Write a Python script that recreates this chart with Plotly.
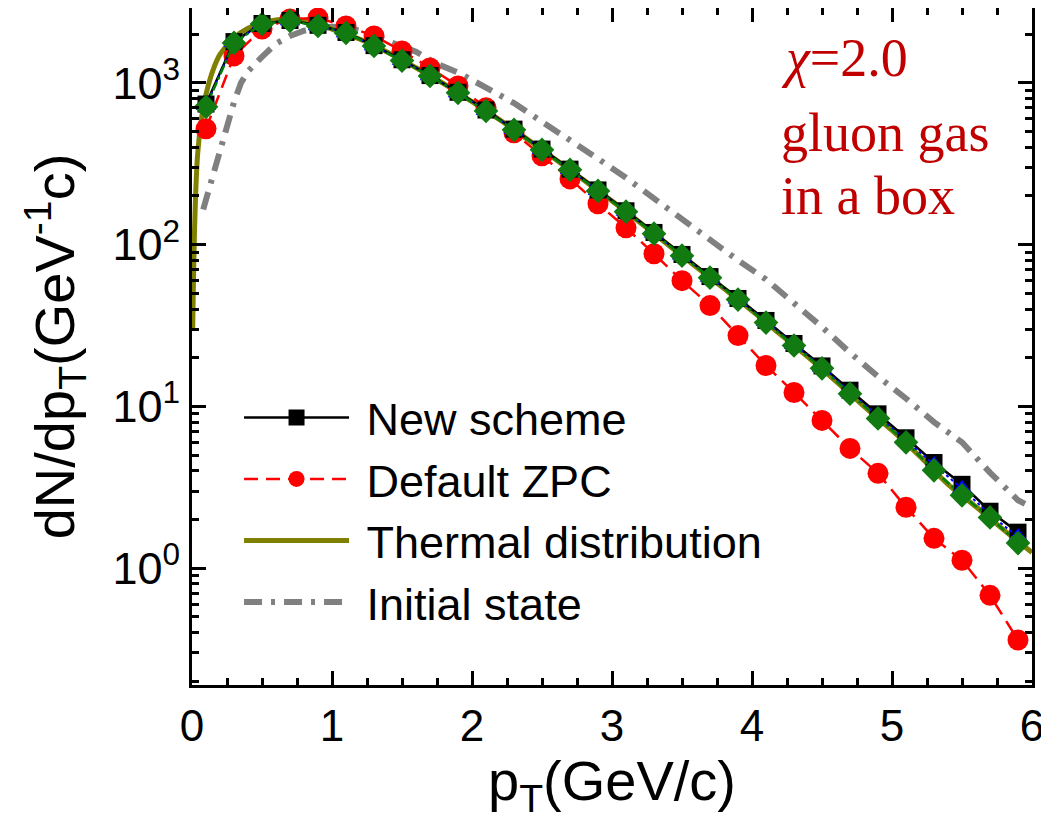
import plotly.graph_objects as go

# ---------------- data ----------------
pt_bins = [0.1, 0.3, 0.5, 0.7, 0.9, 1.1, 1.3, 1.5, 1.7, 1.9,
           2.1, 2.3, 2.5, 2.7, 2.9, 3.1, 3.3, 3.5, 3.7, 3.9,
           4.1, 4.3, 4.5, 4.7, 4.9, 5.1, 5.3, 5.5, 5.7, 5.9]

new_scheme = [740, 1800, 2330, 2430, 2270, 2050, 1700, 1390, 1110, 875,
              680, 518, 390, 293, 218, 162, 119, 87, 63.5, 46.5,
              34, 24.5, 17.8, 12.6, 9.0, 6.4, 4.5, 3.3, 2.25, 1.67]

default_zpc = [520, 1468, 2154, 2483, 2518, 2249, 1950, 1577, 1238, 958,
               701, 491, 354, 255, 179, 127, 87.9, 59.9, 42.0, 27.4,
               17.9, 12.2, 8.2, 5.5, 3.86, 2.38, 1.53, 1.12, 0.68, 0.36]

blue_series = [725, 1780, 2320, 2420, 2255, 2040, 1695, 1380, 1108, 870,
               674, 515, 388, 291, 216, 161, 118, 86.3, 63, 46.2,
               33.6, 24.2, 17.5, 12.3, 8.7, 6.2, 4.35, 3.1, 2.15, 1.56]

green_series = [711, 1766, 2312, 2415, 2249, 2036, 1692, 1375, 1105, 868,
                671, 513, 386, 290, 215, 160, 117, 85.5, 62.5, 45.8,
                33.0, 23.8, 17.2, 12.0, 8.43, 6.0, 4.03, 2.82, 2.06, 1.43]

thermal_pt = [0.005, 0.02, 0.04, 0.07, 0.1, 0.15, 0.2, 0.3, 0.4, 0.5,
              0.6, 0.7, 0.8, 0.9, 1.0, 1.2, 1.4, 1.6, 1.8, 2.0,
              2.2, 2.4, 2.6, 2.8, 3.0, 3.2, 3.4, 3.6, 3.8, 4.0,
              4.2, 4.4, 4.6, 4.8, 5.0, 5.2, 5.4, 5.6, 5.8, 6.0]
thermal_val = [30, 140, 360, 620, 850, 1200, 1500, 1900, 2180, 2350,
               2450, 2480, 2420, 2300, 2150, 1860, 1540, 1240, 985, 765,
               590, 445, 335, 250, 186, 137, 100, 73, 53.5, 39,
               28, 20.2, 14.3, 10.0, 7.1, 4.9, 3.3, 2.4, 1.72, 1.25]

initial_pt = [0.08, 0.1, 0.15, 0.2, 0.25, 0.3, 0.35, 0.4, 0.5, 0.6,
              0.7, 0.8, 0.9, 1.0, 1.1, 1.2, 1.3, 1.4, 1.5, 1.6,
              1.75, 1.9, 2.1, 2.3, 2.5, 2.7, 2.9, 3.1, 3.3, 3.5,
              3.7, 3.9, 4.1, 4.3, 4.5, 4.7, 4.9, 5.1, 5.3, 5.5,
              5.7, 5.9, 5.95]
initial_val = [165, 190, 280, 400, 530, 760, 1000, 1180, 1450, 1750,
               1950, 2100, 2180, 2220, 2200, 2100, 1950, 1800, 1680, 1560,
               1310, 1160, 935, 750, 575, 445, 340, 259, 193, 143,
               106, 80, 61, 44, 31, 21.5, 15.3, 11.2, 8.0, 6.0,
               3.9, 2.63, 2.5]

x_ticks = [0, 1, 2, 3, 4, 5, 6]
y_ticks = [1, 10, 100, 1000]
y_ticktext = ["10<sup>0</sup>", "10<sup>1</sup>", "10<sup>2</sup>", "10<sup>3</sup>"]
y_minor = [0.2, 0.3, 0.4, 0.5, 0.6, 0.7, 0.8, 0.9,
           2, 3, 4, 5, 6, 7, 8, 9,
           20, 30, 40, 50, 60, 70, 80, 90,
           200, 300, 400, 500, 600, 700, 800, 900, 2000]

label_lines = ["<i>χ</i>=2.0", "gluon gas", "in a box"]
label_y = [0.926, 0.816, 0.723]

FONT = "Liberation Sans, Arial, sans-serif"
SERIF = "Liberation Serif, Times New Roman, serif"
GAP = "\u00a0"  # small gap between legend symbol and text

fig = go.Figure()

fig.add_trace(go.Scatter(
    x=initial_pt, y=initial_val, mode="lines", name=GAP + "Initial state",
    line=dict(color="#808080", width=6, dash="18px,9px,4px,9px"),
    legendrank=4))

fig.add_trace(go.Scatter(
    x=thermal_pt, y=thermal_val, mode="lines", name=GAP + "Thermal distribution",
    line=dict(color="#808000", width=5, shape="spline"),
    legendrank=3))

fig.add_trace(go.Scatter(
    x=pt_bins, y=default_zpc, mode="lines+markers", name=GAP + "Default ZPC",
    line=dict(color="#FF0000", width=2.5, dash="14px,8px"),
    marker=dict(symbol="circle", size=21, color="#FF0000"),
    legendrank=2))

fig.add_trace(go.Scatter(
    x=pt_bins, y=new_scheme, mode="lines+markers", name=GAP + "New scheme",
    line=dict(color="#000000", width=2.5),
    marker=dict(symbol="square", size=17, color="#000000"),
    legendrank=1))

fig.add_trace(go.Scatter(
    x=pt_bins, y=blue_series, mode="lines+markers", name="blue",
    line=dict(color="#0000FF", width=2, dash="dot"),
    marker=dict(symbol="triangle-up", size=18, color="#0000FF"),
    showlegend=False))

fig.add_trace(go.Scatter(
    x=pt_bins, y=green_series, mode="lines+markers", name="green",
    line=dict(color="#008000", width=2.5, dash="dashdot"),
    marker=dict(symbol="diamond", size=19, color="#117A11"),
    showlegend=False))

annotations = []
for txt, yy in zip(label_lines, label_y):
    annotations.append(dict(
        text=txt, xref="paper", yref="paper", x=0.699, y=yy,
        xanchor="left", yanchor="middle", align="left", showarrow=False,
        font=dict(family=SERIF, size=54, color="#C00000"),
    ))

fig.update_layout(
    width=1041, height=812,
    margin=dict(l=184, r=17, t=0, b=135),
    paper_bgcolor="white", plot_bgcolor="white",
    font=dict(family=FONT, color="black", size=44),
    legend=dict(
        x=0.056, y=0.448, xanchor="left", yanchor="top",
        bgcolor="rgba(0,0,0,0)", borderwidth=0,
        font=dict(family=FONT, size=45, color="black"),
        itemwidth=105, traceorder="normal",
    ),
    annotations=annotations,
)

fig.update_xaxes(
    range=[0, 6], tickvals=x_ticks, ticks="inside", ticklen=14, tickwidth=3,
    tickcolor="black", showline=True, linewidth=3, linecolor="black",
    mirror="allticks", showgrid=False, zeroline=False, automargin=False,
    tickfont=dict(family=FONT, size=44),
    minor=dict(dtick=0.25, tick0=0, ticks="inside", ticklen=7, tickwidth=3, tickcolor="black", showgrid=False),
    title=dict(text="p<sub>T</sub>(GeV/c)", font=dict(family=FONT, size=56), standoff=0),
)

fig.update_yaxes(
    type="log", range=[-0.722, 3.463],
    tickmode="array", tickvals=y_ticks, ticktext=y_ticktext,
    ticks="inside", ticklen=14, tickwidth=3, tickcolor="black",
    showline=True, linewidth=3, linecolor="black",
    mirror="allticks", showgrid=False, zeroline=False, automargin="left",
    tickfont=dict(family=FONT, size=45),
    minor=dict(tickmode="array", tickvals=y_minor, ticks="inside", ticklen=7, tickwidth=3, tickcolor="black", showgrid=False),
    title=dict(text="dN/dp<sub>T</sub>(GeV<sup>-1</sup>c)", font=dict(family=FONT, size=56), standoff=20),
)

fig.write_html("out.html")
